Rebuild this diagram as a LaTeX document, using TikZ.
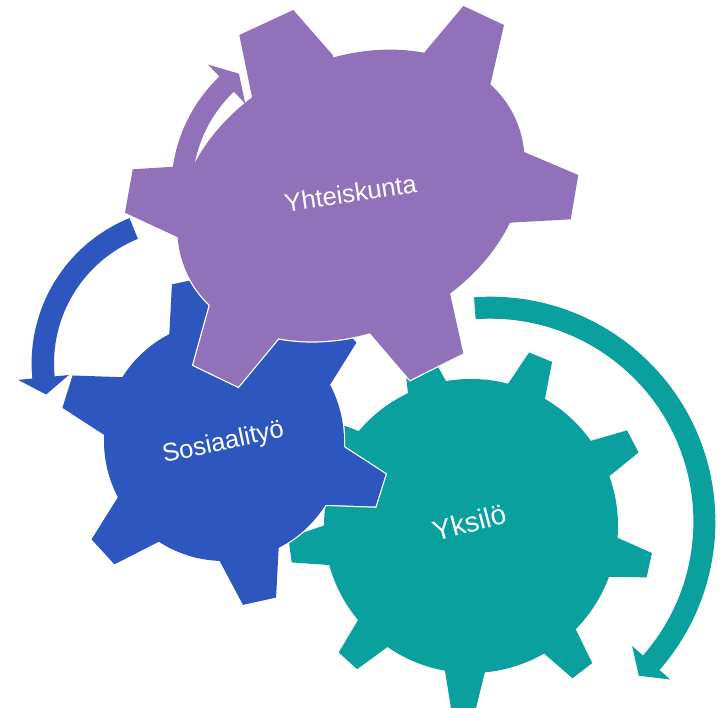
\documentclass[tikz,border=0pt]{standalone}
\usepackage{fontspec}
\setmainfont{Liberation Sans}
\definecolor{gpurple}{RGB}{145,114,186}
\definecolor{gblue}{RGB}{45,87,190}
\definecolor{gteal}{RGB}{9,160,157}
\newcommand{\circarrow}[9]{%
  \fill[#1] ([shift={(#2,#3)}]{#7}:{(#4+#5)*1pt}) arc[start angle=#7, end angle=#8, radius={(#4+#5)*1pt}]
    -- ([shift={(#2,#3)}]{#8}:{(#4+#6)*1pt})
    -- ([shift={(#2,#3)}]{#9}:{(#4)*1pt})
    -- ([shift={(#2,#3)}]{#8}:{(#4-#6)*1pt})
    -- ([shift={(#2,#3)}]{#8}:{(#4-#5)*1pt})
    arc[start angle=#8, end angle=#7, radius={(#4-#5)*1pt}] -- cycle;}
% parametric gear: #1 options, #2 cx, #3 cy, #4 rin, #5 rout, #6 base half angle, #7 tip half angle, #8 tooth angles
\newcommand{\pgear}[8]{%
  \path[#1] (#2,#3) circle[radius=#4pt];
  \foreach \a in {#8}{%
    \path[#1] ([shift={(#2,#3)}]{\a+#6}:{(#4-18)*1pt}) -- ([shift={(#2,#3)}]{\a+#6}:{#4*1pt})
      -- ([shift={(#2,#3)}]{\a+#7}:{#5*1pt}) -- ([shift={(#2,#3)}]{\a-#7}:{#5*1pt})
      -- ([shift={(#2,#3)}]{\a-#6}:{#4*1pt}) -- ([shift={(#2,#3)}]{\a-#6}:{(#4-18)*1pt}) -- cycle;}}
\newcommand{\purplegear}[1]{%
  \path[#1, rotate around={26:(351,512.5)}] (351,512.5) ellipse[x radius=181.5pt, y radius=136pt];
  \path[#1] (267,601) -- (253,606) -- (239.3,673) -- (293.3,698) -- (332.7,653) -- (335.3,633.2) -- cycle;
  \path[#1] (415.8,638.5) -- (425,656.3) -- (463.3,702) -- (504,683) -- (490.7,624.7) -- (475.1,612.2) -- cycle;
  \path[#1] (503.9,551.4) -- (523.3,556.3) -- (578.3,533) -- (570.7,488.7) -- (509.3,485.3) -- (489.6,488.7) -- cycle;
  \path[#1] (435.8,428.7) -- (450,414.7) -- (463.3,354.7) -- (410,328) -- (370,374.7) -- (367.3,394.5) -- cycle;
  \path[#1] (287.4,387.5) -- (278.3,369.7) -- (238.3,321.3) -- (193.3,343) -- (210,403) -- (225.8,415.3) -- cycle;
  \path[#1] (199.4,474.6) -- (180,469.7) -- (125,495.3) -- (132.7,538.7) -- (193,542.5) -- (210,536) -- cycle;}
\tikzset{
  gearline/.style={draw=white, line width=2.5pt, line join=miter},
  gearlabel/.style={text=white, inner sep=0pt}
}
\begin{document}
\begin{tikzpicture}[x=1pt, y=1pt]
\useasboundingbox (0,0) rectangle (723,708);
\fill[white] (0,0) rectangle (723,708);
% teal gear (Yksilo)
\pgear{gearline}{471}{182}{147}{183}{7.8}{3.9}{67.6,27.6,-12.4,-52.4,-92.4,-132.4,-172.4,147.6,107.6}
\pgear{fill=gteal}{471}{182}{147}{183}{7.8}{3.9}{67.6,27.6,-12.4,-52.4,-92.4,-132.4,-172.4,147.6,107.6}
% blue gear (Sosiaalityo)
\pgear{gearline}{224}{267}{120}{165}{14.6}{5.9}{102.5,42.5,-17.5,-77.5,-137.5,162.5}
\pgear{fill=gblue}{224}{267}{120}{165}{14.6}{5.9}{102.5,42.5,-17.5,-77.5,-137.5,162.5}
% purple gear (Yhteiskunta)
\purplegear{gearline}
\purplegear{fill=gpurple}
% arrows
\circarrow{gteal}{490.5}{186.4}{213.9}{11}{25.4}{94.2}{-41.3}{-46.1}
\circarrow{gblue}{188.5}{344.5}{145.7}{11.2}{25.5}{112.1}{185.5}{192.3}
\circarrow{gpurple}{326.3}{519.2}{144.5}{10.5}{27}{185}{133.6}{127.2}
% labels
\node[gearlabel, rotate=8.5, font=\fontsize{25.5}{30}\selectfont] (yht) at (350.5,514.7) {Yhteiskunta};
\node[gearlabel, rotate=12, font=\fontsize{25.5}{30}\selectfont] (sos) at (223.3,264.7) {Sosiaalityö};
\node[gearlabel, rotate=15, font=\fontsize{28}{33}\selectfont] (yks) at (469.2,185.5) {Yksilö};
\end{tikzpicture}
\end{document}
